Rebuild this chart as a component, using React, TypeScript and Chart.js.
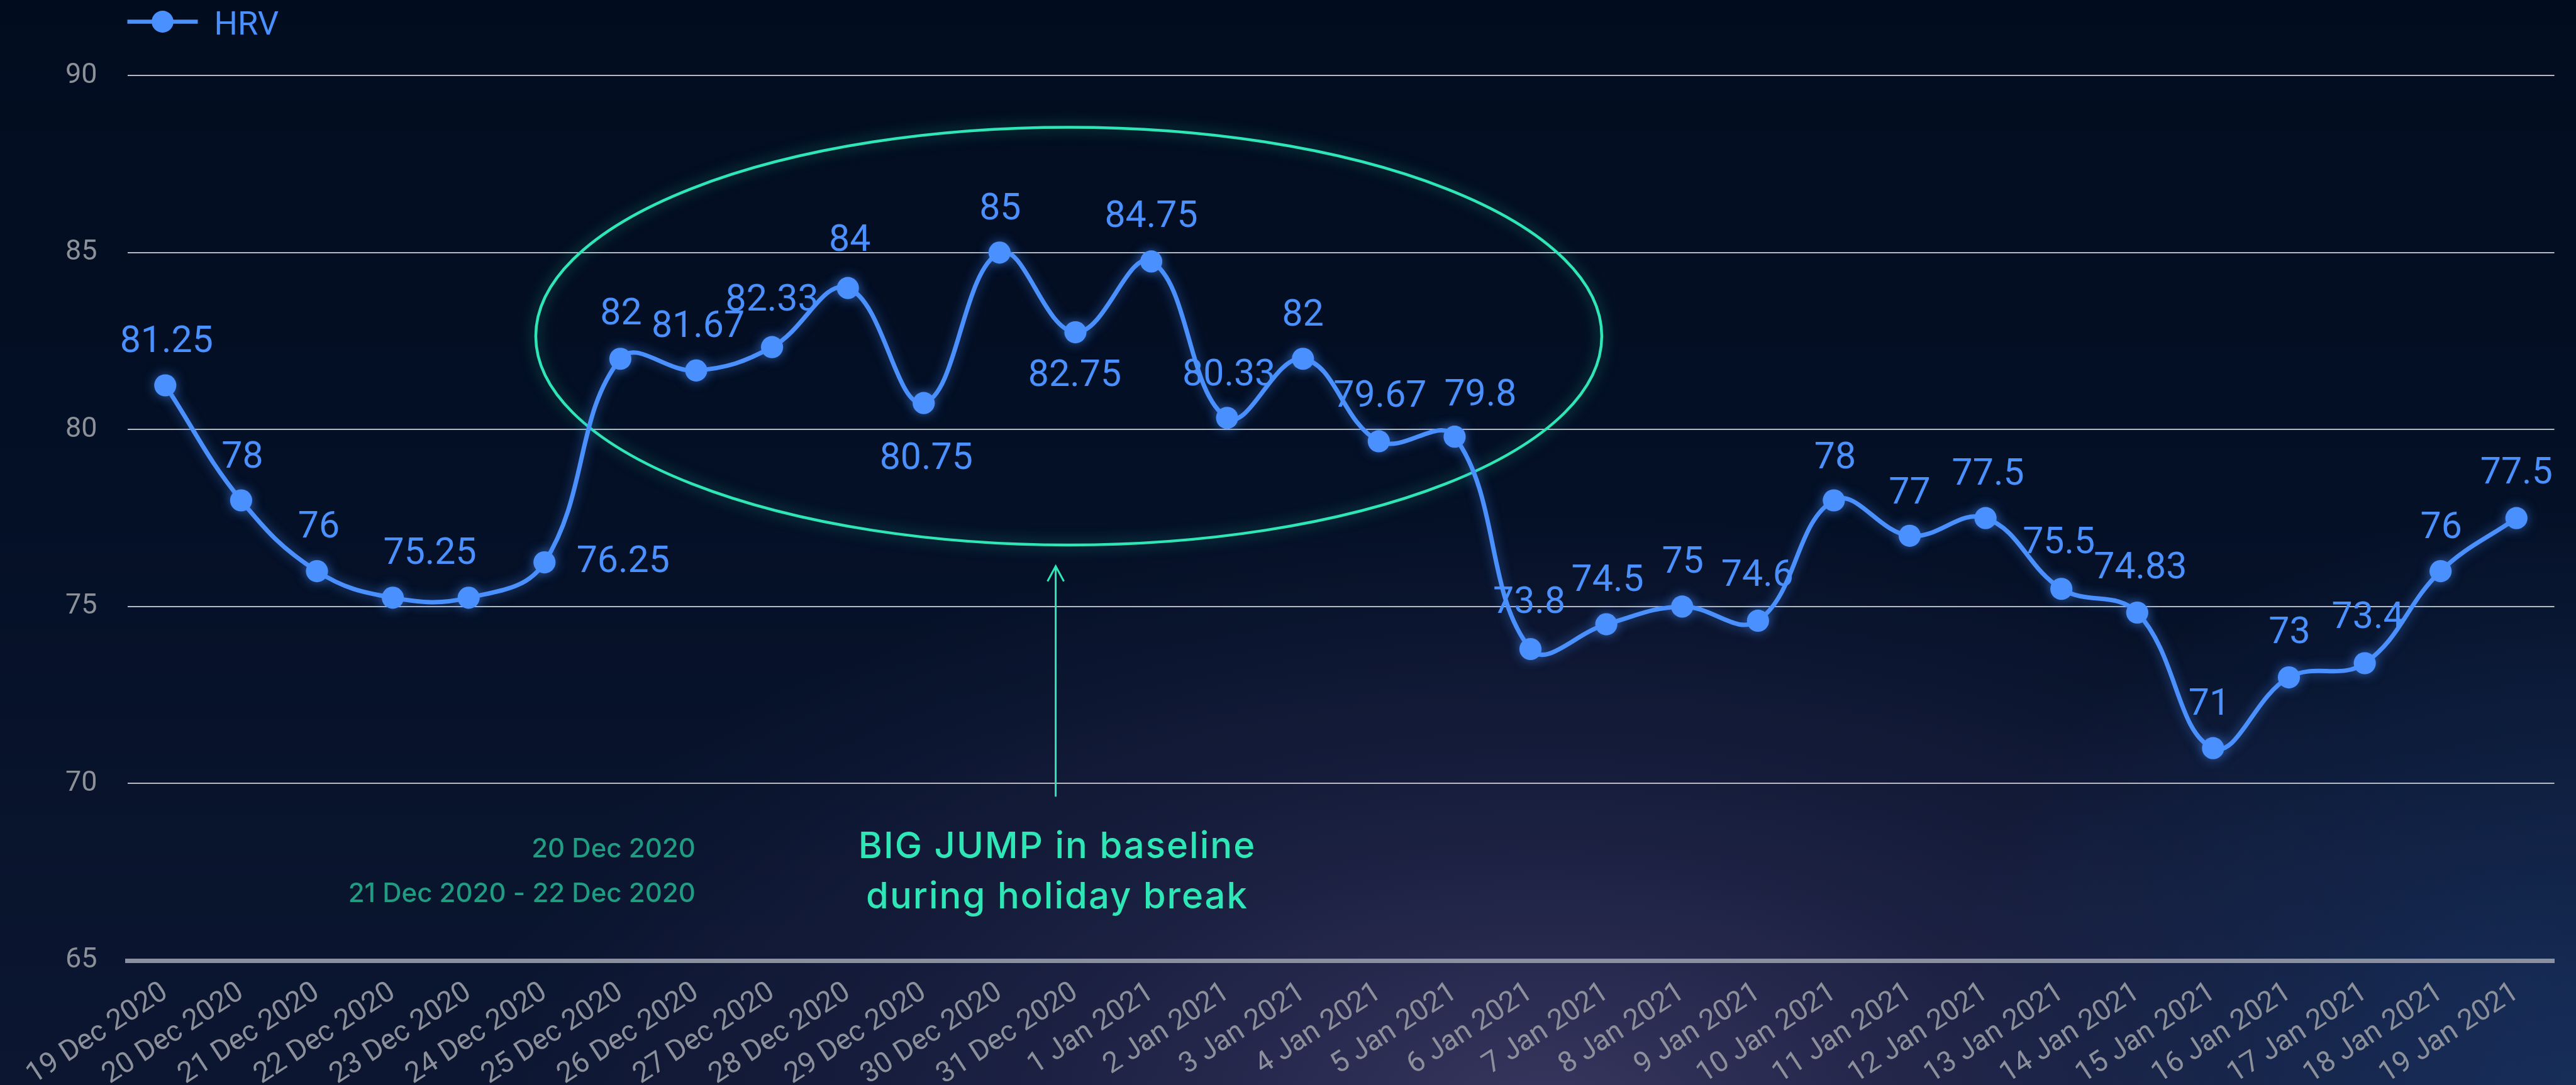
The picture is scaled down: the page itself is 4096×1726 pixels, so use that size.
import React, { useEffect, useRef } from "react";
import { Chart, registerables } from "chart.js";

Chart.register(...registerables);

// ---------- data ----------
const CATEGORIES = [
  "19 Dec 2020", "20 Dec 2020", "21 Dec 2020", "22 Dec 2020", "23 Dec 2020",
  "24 Dec 2020", "25 Dec 2020", "26 Dec 2020", "27 Dec 2020", "28 Dec 2020",
  "29 Dec 2020", "30 Dec 2020", "31 Dec 2020", "1 Jan 2021", "2 Jan 2021",
  "3 Jan 2021", "4 Jan 2021", "5 Jan 2021", "6 Jan 2021", "7 Jan 2021",
  "8 Jan 2021", "9 Jan 2021", "10 Jan 2021", "11 Jan 2021", "12 Jan 2021",
  "13 Jan 2021", "14 Jan 2021", "15 Jan 2021", "16 Jan 2021", "17 Jan 2021",
  "18 Jan 2021", "19 Jan 2021",
];
const HRV_VALUES = [
  81.25, 78, 76, 75.25, 75.25, 76.25, 82, 81.67, 82.33, 84, 80.75, 85, 82.75,
  84.75, 80.33, 82, 79.67, 79.8, 73.8, 74.5, 75, 74.6, 78, 77, 77.5, 75.5,
  74.83, 71, 73, 73.4, 76, 77.5,
];
const SERIES_NAME = "HRV";
const Y_TICKS = [65, 70, 75, 80, 85, 90];
const Y_MIN = 65;
const Y_MAX = 90;

// annotation content (anchored in data units: category index / HRV value)
const NOTE_LINES = ["BIG JUMP in baseline", "during holiday break"];
const NOTE_X = 11.76;
const NOTE_BASELINES = [67.9, 66.48];
const RANGE_LINES = ["20 Dec 2020", "21 Dec 2020 - 22 Dec 2020"];
const RANGE_RIGHT_X = 6.99;
const RANGE_BASELINES = [67.92, 66.66];
const ELLIPSE_X = [4.885, 18.94];
const ELLIPSE_Y = [76.74, 88.54];
const ARROW_X = 11.74;
const ARROW_Y = [69.63, 76.14];

// ---------- styles ----------
const BLUE = "#4a90ff";
const TEAL = "#2ee6b6";
const TEAL_DARK = "#1f9c82";
// value label offsets in px (dx, dy from point centre to label centre); null = hidden
const LABEL_OFFSETS: ([number, number] | null)[] = [
  [2, -74], [2, -73], [3, -75], [59, -75], null, [125, -6], [1, -76], [3, -74],
  [0, -79], [3, -80], [4, 84], [1, -74], [-1, 64], [0, -76], [3, -73], [0, -74],
  [2, -76], [41, -71], [-2, -78], [2, -74], [1, -75], [-1, -76], [2, -72], [0, -72],
  [4, -74], [-4, -78], [5, -75], [-6, -74], [1, -76], [5, -77], [1, -74], [0, -76],
];
const W = 4096;
const H = 1726;

const bgPlugin = {
  id: "bg",
  beforeDraw(chart: any) {
    const { ctx, width, height } = chart;
    ctx.save();
    const g = ctx.createLinearGradient(0, 0, 0, height);
    g.addColorStop(0, "#020c1f");
    g.addColorStop(0.45, "#041026");
    g.addColorStop(1, "#0c1631");
    ctx.fillStyle = g;
    ctx.fillRect(0, 0, width, height);
    // purple glow at the bottom
    ctx.save();
    ctx.translate(width * 0.6, height * 1.02);
    ctx.scale(1, 0.55);
    const r = ctx.createRadialGradient(0, 0, 0, 0, 0, width * 0.42);
    r.addColorStop(0, "rgba(60,58,100,0.9)");
    r.addColorStop(0.5, "rgba(45,45,85,0.45)");
    r.addColorStop(1, "rgba(40,40,80,0)");
    ctx.fillStyle = r;
    ctx.fillRect(-width, -height * 3, width * 2, height * 4);
    ctx.restore();
    // blue glow at bottom right
    ctx.save();
    ctx.translate(width * 1.0, height * 1.0);
    ctx.scale(1, 0.9);
    const r2 = ctx.createRadialGradient(0, 0, 0, 0, 0, width * 0.25);
    r2.addColorStop(0, "rgba(26,52,100,0.8)");
    r2.addColorStop(1, "rgba(26,52,100,0)");
    ctx.fillStyle = r2;
    ctx.fillRect(-width, -height * 2, width * 2, height * 3);
    ctx.restore();
    ctx.restore();
  },
};

const annotationPlugin = {
  id: "notes",
  beforeDatasetsDraw(chart: any) {
    const { ctx } = chart;
    const xs = chart.scales.x;
    const ys = chart.scales.y;
    ctx.save();
    // ellipse
    const x1 = xs.getPixelForValue(ELLIPSE_X[0]);
    const x2 = xs.getPixelForValue(ELLIPSE_X[1]);
    const y1 = ys.getPixelForValue(ELLIPSE_Y[1]);
    const y2 = ys.getPixelForValue(ELLIPSE_Y[0]);
    ctx.shadowColor = "rgba(46,230,182,0.55)";
    ctx.shadowBlur = 22;
    ctx.strokeStyle = TEAL;
    ctx.lineWidth = 4.5;
    ctx.beginPath();
    ctx.ellipse((x1 + x2) / 2, (y1 + y2) / 2, (x2 - x1) / 2, (y2 - y1) / 2, 0, 0, Math.PI * 2);
    ctx.stroke();
    ctx.shadowBlur = 0;
    ctx.shadowColor = "transparent";
    // arrow
    const ax = xs.getPixelForValue(ARROW_X);
    const ab = ys.getPixelForValue(ARROW_Y[0]);
    const at = ys.getPixelForValue(ARROW_Y[1]);
    ctx.lineWidth = 3;
    ctx.beginPath();
    ctx.moveTo(ax, ab);
    ctx.lineTo(ax, at);
    ctx.moveTo(ax - 13, at + 24);
    ctx.lineTo(ax, at);
    ctx.lineTo(ax + 13, at + 24);
    ctx.stroke();
    // note text
    ctx.fillStyle = TEAL;
    ctx.font = "500 58px Inter";
    (ctx as any).letterSpacing = "2px";
    ctx.textAlign = "center";
    ctx.textBaseline = "alphabetic";
    const nx = xs.getPixelForValue(NOTE_X);
    NOTE_LINES.forEach((t, i) => ctx.fillText(t, nx, ys.getPixelForValue(NOTE_BASELINES[i])));
    (ctx as any).letterSpacing = "0px";
    ctx.fillStyle = TEAL_DARK;
    ctx.font = "500 42px Inter";
    ctx.textAlign = "right";
    const rx = xs.getPixelForValue(RANGE_RIGHT_X);
    RANGE_LINES.forEach((t, i) => ctx.fillText(t, rx, ys.getPixelForValue(RANGE_BASELINES[i])));

    // value labels (under the line)
    const meta = chart.getDatasetMeta(0);
    ctx.fillStyle = BLUE;
    ctx.font = "400 59px Roboto";
    ctx.textAlign = "center";
    const half = 59 * 0.711 / 2;
    meta.data.forEach((pt: any, i: number) => {
      const off = LABEL_OFFSETS[i];
      if (!off) return;
      ctx.fillText(String(HRV_VALUES[i]), pt.x + off[0], pt.y + off[1] + half);
    });
    ctx.restore();
  },
  beforeDatasetDraw(chart: any) {
    const { ctx } = chart;
    ctx.save();
    ctx.shadowColor = "rgba(74,144,255,0.55)";
    ctx.shadowBlur = 18;
  },
  afterDatasetDraw(chart: any) {
    chart.ctx.restore();
  },
  afterDraw(chart: any) {
    const { ctx, chartArea } = chart;
    ctx.save();
    const ly = 34.5;
    const lx = chartArea.left;
    ctx.strokeStyle = BLUE;
    ctx.fillStyle = BLUE;
    ctx.lineWidth = 6.7;
    ctx.beginPath();
    ctx.moveTo(lx, ly);
    ctx.lineTo(lx + 112, ly);
    ctx.stroke();
    ctx.beginPath();
    ctx.arc(lx + 56, ly, 17.4, 0, Math.PI * 2);
    ctx.fill();
    ctx.font = "400 52.5px Roboto";
    ctx.textAlign = "left";
    ctx.textBaseline = "alphabetic";
    ctx.fillText(SERIES_NAME, lx + 138, 54.5);
    ctx.restore();
  },
};

export default function App() {
  const ref = useRef<HTMLCanvasElement | null>(null);
  useEffect(() => {
    if (!ref.current) return;
    const chart = new Chart(ref.current, {
      type: "line",
      data: {
        labels: CATEGORIES,
        datasets: [
          {
            label: SERIES_NAME,
            data: HRV_VALUES,
            borderColor: BLUE,
            backgroundColor: BLUE,
            borderWidth: 7,
            pointRadius: 17.6,
            pointHoverRadius: 17.6,
            pointBackgroundColor: BLUE,
            pointBorderWidth: 0,
            tension: 0.4,
            fill: false,
            clip: false as any,
          },
        ],
      },
      options: {
        animation: false,
        responsive: false,
        devicePixelRatio: 1,
        events: [],
        layout: { padding: { left: 0, right: 34.4, top: 120.3, bottom: 0 } },
        plugins: { legend: { display: false }, tooltip: { enabled: false } },
        scales: {
          x: {
            type: "category",
            offset: true,
            grid: { display: false, drawTicks: false },
            border: { display: true, color: "#8a909e", width: 7 },
            ticks: {
              autoSkip: false,
              minRotation: 33,
              maxRotation: 33,
              padding: 24,
              color: "#8b909b",
              font: { family: "Roboto", size: 46 },
            },
            afterFit: (s: any) => {
              s.height = 198;
            },
          },
          y: {
            min: Y_MIN,
            max: Y_MAX,
            grid: { color: "rgba(214,216,222,0.85)", lineWidth: 2, drawTicks: false },
            border: { display: false },
            ticks: {
              padding: 48,
              color: "#8c9098",
              font: { family: "Roboto", size: 45 },
            },
            afterBuildTicks: (s: any) => {
              s.ticks = Y_TICKS.map((v) => ({ value: v }));
            },
            afterFit: (s: any) => {
              s.width = 202.5;
            },
          },
        },
      },
      plugins: [bgPlugin, annotationPlugin],
    });
    return () => chart.destroy();
  }, []);
  return (
    <div style={{ position: "fixed", left: 0, top: 0, width: W, height: H }}>
      <canvas ref={ref} width={W} height={H} style={{ display: "block", width: W, height: H }} />
    </div>
  );
}
